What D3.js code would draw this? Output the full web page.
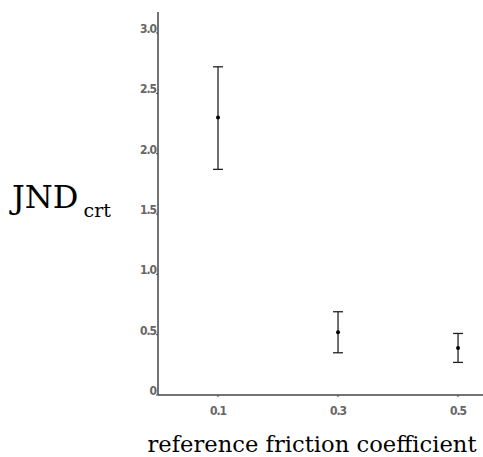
<!DOCTYPE html>
<html>
<head>
<meta charset="utf-8">
<script src="https://cdn.jsdelivr.net/npm/d3@7"></script>
<style>
  body { margin: 0; background: #fff; }
  .serif { font-family: "DejaVu Serif", serif; }
  .tick { font-family: "DejaVu Sans Condensed", "DejaVu Sans", sans-serif; }
</style>
</head>
<body>
<script>
// data
const frictions = [0.1, 0.3, 0.5]
const means     = [2.30, 0.52, 0.39]
const lows      = [1.87, 0.35, 0.27]
const highs     = [2.72, 0.69, 0.51]
const yTicks    = [0, 0.5, 1.0, 1.5, 2.0, 2.5, 3.0]
const xTicks    = [0.1, 0.3, 0.5]

const width = 483, height = 457

const svg = d3.select("body").append("svg")
  .attr("width", width).attr("height", height)

const x = d3.scaleLinear().domain([0, 0.5416]).range([158, 483])
const y = d3.scaleLinear().domain([0, 3]).range([395, 33])

const axisColor = "#444"
const labelColor = "#666"

// axes lines
svg.append("line")
  .attr("x1", x(0)).attr("x2", x(0))
  .attr("y1", 12).attr("y2", y(0))
  .attr("stroke", axisColor).attr("stroke-width", 1.5)
svg.append("line")
  .attr("x1", x(0)).attr("x2", width)
  .attr("y1", y(0)).attr("y2", y(0))
  .attr("stroke", axisColor).attr("stroke-width", 1.5)

// y ticks
const yt = svg.append("g")
yTicks.forEach(t => {
  yt.append("line")
    .attr("x1", x(0) - 2).attr("x2", x(0))
    .attr("y1", y(t)).attr("y2", y(t))
    .attr("stroke", axisColor).attr("stroke-width", 1)
  yt.append("text")
    .attr("class", "tick")
    .attr("x", x(0) - 2).attr("y", y(t))
    .attr("text-anchor", "end")
    .attr("font-size", 12)
    .attr("font-weight", "bold")
    .attr("letter-spacing", -1)
    .attr("fill", labelColor)
    .text(t === 0 ? "0" : t.toFixed(1))
})

// x ticks
const xt = svg.append("g")
xTicks.forEach(t => {
  xt.append("line")
    .attr("x1", x(t)).attr("x2", x(t))
    .attr("y1", y(0)).attr("y2", y(0) + 2)
    .attr("stroke", axisColor).attr("stroke-width", 1)
  xt.append("text")
    .attr("class", "tick")
    .attr("x", x(t)).attr("y", y(0) + 20)
    .attr("text-anchor", "middle")
    .attr("font-size", 12)
    .attr("font-weight", "bold")
    .attr("letter-spacing", -1)
    .attr("fill", labelColor)
    .text(t.toFixed(1))
})

// error bars
const cap = 5
const bars = svg.append("g")
frictions.forEach((f, i) => {
  const cx = x(f)
  bars.append("line")
    .attr("x1", cx).attr("x2", cx)
    .attr("y1", y(highs[i])).attr("y2", y(lows[i]))
    .attr("stroke", "#222").attr("stroke-width", 1.3)
  ;[highs[i], lows[i]].forEach(v => {
    bars.append("line")
      .attr("x1", cx - cap).attr("x2", cx + cap)
      .attr("y1", y(v)).attr("y2", y(v))
      .attr("stroke", "#222").attr("stroke-width", 1.3)
  })
  bars.append("circle")
    .attr("cx", cx).attr("cy", y(means[i]))
    .attr("r", 2).attr("fill", "#000")
})

// axis titles
const yl = svg.append("text")
  .attr("class", "serif")
  .attr("x", 12).attr("y", 208)
  .attr("font-size", 32)
  .attr("fill", "#000")
yl.append("tspan").text("JND")
yl.append("tspan").attr("dx", 5).attr("dy", 9).attr("font-size", 19).text("crt")

svg.append("text")
  .attr("class", "serif")
  .attr("x", 312).attr("y", 452)
  .attr("text-anchor", "middle")
  .attr("font-size", 22.5)
  .attr("textLength", 329)
  .attr("lengthAdjust", "spacingAndGlyphs")
  .attr("fill", "#000")
  .text("reference friction coefficient")
</script>
</body>
</html>
